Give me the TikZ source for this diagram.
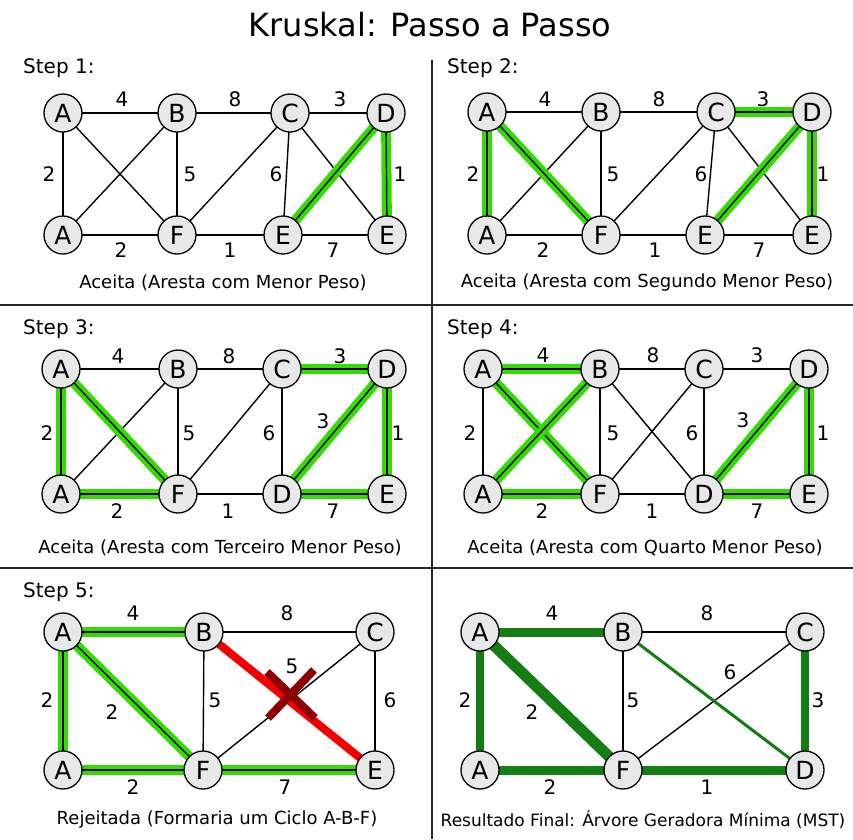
\documentclass[tikz,border=0pt]{standalone}
\usepackage{fontspec}
\setmainfont{DejaVu Sans}
\usetikzlibrary{backgrounds}

\definecolor{hl}{RGB}{50,220,0}
\definecolor{mst}{RGB}{20,125,20}
\definecolor{rej}{RGB}{245,0,0}
\definecolor{crossred}{RGB}{140,0,0}
\definecolor{vfill}{RGB}{232,232,232}

\tikzset{
  vtx/.style={circle, draw=black, line width=1.3pt, fill=vfill, minimum size=38pt,
    inner sep=0pt, font=\fontsize{25}{25}\selectfont},
  wt/.style={font=\fontsize{20}{20}\selectfont, inner sep=0pt},
  caption/.style={font=\fontsize{18}{18}\selectfont, inner sep=0pt},
  steplbl/.style={font=\fontsize{20}{20}\selectfont, inner sep=0pt, anchor=west},
  edge/.style={line width=1.4pt, black},
  hledge/.style={edge, preaction={draw=hl, line width=10pt}},
  rejedge/.style={line width=8pt, rej},
  crossmark/.style={line width=8pt, crossred},
  mstedge/.style={line width=#1, mst},
  divider/.style={line width=2pt, black!85},
}

\begin{document}
\begin{tikzpicture}[x=1pt, y=-1pt]
\useasboundingbox (0,0) rectangle (853,839);
\begin{scope}[on background layer]
  \fill[white] (0,0) rectangle (853,839);
\end{scope}

% title and panel dividers
\node[font=\fontsize{32}{32}\selectfont, inner sep=0pt] (title) at (430,25) {Kruskal: Passo a Passo};
\coordinate (h1l) at (0,305);   \coordinate (h1r) at (853,305);
\coordinate (h2l) at (0,568);   \coordinate (h2r) at (853,568);
\coordinate (vt) at (432,60);   \coordinate (vb) at (432,839);
\draw[divider] (h1l) -- (h1r);
\draw[divider] (h2l) -- (h2r);
\draw[divider] (vt) -- (vb);

% ---------------- Step 1 ----------------
\node[steplbl] (s1) at (23,68) {Step 1:};
\node[vtx] (p1a) at (63,113) {A};
\node[vtx] (p1b) at (177,113) {B};
\node[vtx] (p1c) at (290,113) {C};
\node[vtx] (p1d) at (386,113) {D};
\node[vtx] (p1g) at (63,235) {A};
\node[vtx] (p1f) at (177,235) {F};
\node[vtx] (p1e) at (283,235) {E};
\node[vtx] (p1h) at (387,235) {E};
\begin{scope}[on background layer]
  \foreach \u/\v in {a/b,b/c,c/d,a/g,a/f,g/b,b/f,f/c,c/e,c/h,g/f,f/e,e/h}
    \draw[edge] (p1\u.center) -- (p1\v.center);
  \foreach \u/\v in {d/e,d/h}
    \draw[hledge] (p1\u.center) -- (p1\v.center);
\end{scope}
\node[wt] (w1a) at (122,99) {4};
\node[wt] (w1b) at (235,99) {8};
\node[wt] (w1c) at (340,99) {3};
\node[wt] (w1d) at (49,174) {2};
\node[wt] (w1e) at (190,174) {5};
\node[wt] (w1f) at (276,174) {6};
\node[wt] (w1g) at (400,174) {1};
\node[wt] (w1h) at (121,250) {2};
\node[wt] (w1i) at (230,250) {1};
\node[wt] (w1j) at (333,250) {7};
\node[caption] (c1) at (223,283) {Aceita (Aresta com Menor Peso)};

% ---------------- Step 2 ----------------
\node[steplbl] (s2) at (447,68) {Step 2:};
\node[vtx] (p2a) at (487,112) {A};
\node[vtx] (p2b) at (601,112) {B};
\node[vtx] (p2c) at (716,112) {C};
\node[vtx] (p2d) at (812,112) {D};
\node[vtx] (p2g) at (487,235) {A};
\node[vtx] (p2f) at (601,235) {F};
\node[vtx] (p2e) at (705,235) {E};
\node[vtx] (p2h) at (812,235) {E};
\begin{scope}[on background layer]
  \foreach \u/\v in {a/b,b/c,g/b,b/f,f/c,c/e,c/h,g/f,f/e,e/h}
    \draw[edge] (p2\u.center) -- (p2\v.center);
  \foreach \u/\v in {c/d,a/g,a/f,d/e,d/h}
    \draw[hledge] (p2\u.center) -- (p2\v.center);
\end{scope}
\node[wt] (w2a) at (545,99) {4};
\node[wt] (w2b) at (659,99) {8};
\node[wt] (w2c) at (763,99) {3};
\node[wt] (w2d) at (473,174) {2};
\node[wt] (w2e) at (613,174) {5};
\node[wt] (w2f) at (701,174) {6};
\node[wt] (w2g) at (823,174) {1};
\node[wt] (w2h) at (543,250) {2};
\node[wt] (w2i) at (655,250) {1};
\node[wt] (w2j) at (759,250) {7};
\node[caption] (c2) at (647,283) {Aceita (Aresta com Segundo Menor Peso)};

% ---------------- Step 3 ----------------
\node[steplbl] (s3) at (23,329) {Step 3:};
\node[vtx] (p3a) at (61,369) {A};
\node[vtx] (p3b) at (178,369) {B};
\node[vtx] (p3c) at (282,369) {C};
\node[vtx] (p3d) at (387,369) {D};
\node[vtx] (p3g) at (61,494) {A};
\node[vtx] (p3f) at (178,494) {F};
\node[vtx] (p3k) at (282,494) {D};
\node[vtx] (p3e) at (387,494) {E};
\begin{scope}[on background layer]
  \foreach \u/\v in {a/b,b/c,g/b,b/f,f/c,c/k,f/k}
    \draw[edge] (p3\u.center) -- (p3\v.center);
  \foreach \u/\v in {c/d,a/g,a/f,d/k,d/e,g/f,k/e}
    \draw[hledge] (p3\u.center) -- (p3\v.center);
\end{scope}
\node[wt] (w3a) at (118,356) {4};
\node[wt] (w3b) at (229,356) {8};
\node[wt] (w3c) at (340,356) {3};
\node[wt] (w3d) at (47,433) {2};
\node[wt] (w3e) at (189,433) {5};
\node[wt] (w3f) at (269,433) {6};
\node[wt] (w3k) at (323,421) {3};
\node[wt] (w3g) at (398,433) {1};
\node[wt] (w3h) at (117,511) {2};
\node[wt] (w3i) at (228,511) {1};
\node[wt] (w3j) at (333,511) {7};
\node[caption] (c3) at (220,548) {Aceita (Aresta com Terceiro Menor Peso)};

% ---------------- Step 4 ----------------
\node[steplbl] (s4) at (447,329) {Step 4:};
\node[vtx] (p4a) at (483,369) {A};
\node[vtx] (p4b) at (600,369) {B};
\node[vtx] (p4c) at (704,369) {C};
\node[vtx] (p4d) at (809,369) {D};
\node[vtx] (p4g) at (483,494) {A};
\node[vtx] (p4f) at (600,494) {F};
\node[vtx] (p4k) at (704,494) {D};
\node[vtx] (p4e) at (809,494) {E};
\begin{scope}[on background layer]
  \foreach \u/\v in {b/c,c/d,a/g,b/f,b/k,f/c,c/k,f/k}
    \draw[edge] (p4\u.center) -- (p4\v.center);
  \foreach \u/\v in {a/b,a/f,g/b,g/f,d/k,d/e,k/e}
    \draw[hledge] (p4\u.center) -- (p4\v.center);
\end{scope}
\node[wt] (w4a) at (543,355) {4};
\node[wt] (w4b) at (653,355) {8};
\node[wt] (w4c) at (757,355) {3};
\node[wt] (w4d) at (470,433) {2};
\node[wt] (w4e) at (613,433) {5};
\node[wt] (w4f) at (692,433) {6};
\node[wt] (w4k) at (743,420) {3};
\node[wt] (w4g) at (823,433) {1};
\node[wt] (w4h) at (542,511) {2};
\node[wt] (w4i) at (652,511) {1};
\node[wt] (w4j) at (757,511) {7};
\node[caption] (c4) at (645,548) {Aceita (Aresta com Quarto Menor Peso)};

% ---------------- Step 5 ----------------
\node[steplbl] (s5) at (23,592) {Step 5:};
\node[vtx] (p5a) at (63,632) {A};
\node[vtx] (p5b) at (204,632) {B};
\node[vtx] (p5c) at (375,632) {C};
\node[vtx] (p5g) at (63,770) {A};
\node[vtx] (p5f) at (203,770) {F};
\node[vtx] (p5e) at (375,770) {E};
\begin{scope}[on background layer]
  \foreach \u/\v in {b/c,b/f,f/c,c/e}
    \draw[edge] (p5\u.center) -- (p5\v.center);
  \foreach \u/\v in {a/b,a/g,a/f,g/f,f/e}
    \draw[hledge] (p5\u.center) -- (p5\v.center);
  \draw[rejedge] (p5b.center) -- (p5e.center);
\end{scope}
\coordinate (xmark) at (291,694);
\draw[crossmark] ([shift={(-24,-22)}]xmark) -- ([shift={(24,24)}]xmark);
\draw[crossmark] ([shift={(-23,24)}]xmark) -- ([shift={(23,-24)}]xmark);
\node[wt] (w5a) at (133,613) {4};
\node[wt] (w5b) at (287,613) {8};
\node[wt] (w5c) at (292,666) {5};
\node[wt] (w5d) at (47,700) {2};
\node[wt] (w5e) at (112,712) {2};
\node[wt] (w5f) at (215,700) {5};
\node[wt] (w5g) at (390,700) {6};
\node[wt] (w5h) at (133,787) {2};
\node[wt] (w5i) at (285,787) {7};
\node[caption] (c5) at (217,820) {Rejeitada (Formaria um Ciclo A-B-F)};

% ---------------- Final result ----------------
\node[vtx] (p6a) at (480,632) {A};
\node[vtx] (p6b) at (623,632) {B};
\node[vtx] (p6c) at (805,632) {C};
\node[vtx] (p6g) at (480,770) {A};
\node[vtx] (p6f) at (623,770) {F};
\node[vtx] (p6d) at (805,770) {D};
\begin{scope}[on background layer]
  \foreach \u/\v in {b/c,b/f,f/c}
    \draw[edge] (p6\u.center) -- (p6\v.center);
  \draw[mstedge=9pt] (p6a.center) -- (p6b.center);
  \draw[mstedge=8pt] (p6a.center) -- (p6g.center);
  \draw[mstedge=11pt] (p6a.center) -- (p6f.center);
  \draw[mstedge=9pt] (p6g.center) -- (p6f.center);
  \draw[mstedge=9pt] (p6f.center) -- (p6d.center);
  \draw[mstedge=8pt] (p6c.center) -- (p6d.center);
  \draw[mstedge=3pt] (p6b.center) -- (p6d.center);
\end{scope}
\node[wt] (w6a) at (552,613) {4};
\node[wt] (w6b) at (707,613) {8};
\node[wt] (w6c) at (730,672) {6};
\node[wt] (w6d) at (465,700) {2};
\node[wt] (w6e) at (532,712) {2};
\node[wt] (w6f) at (633,700) {5};
\node[wt] (w6g) at (818,700) {3};
\node[wt] (w6h) at (550,787) {2};
\node[wt] (w6i) at (707,787) {1};
\node[caption, font=\fontsize{17}{17}\selectfont] (c6) at (643,820) {Resultado Final: Árvore Geradora Mínima (MST)};
\end{tikzpicture}
\end{document}
